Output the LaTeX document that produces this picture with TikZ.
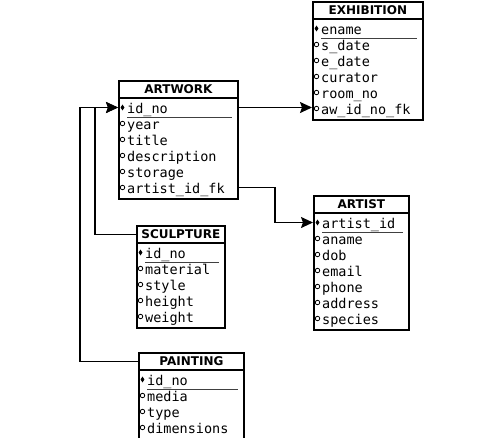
\documentclass[tikz,border=0pt]{standalone}
\usepackage{fontspec}
\setmonofont{DejaVu Sans Mono}
\newfontfamily\headfont{DejaVu Sans}
\usetikzlibrary{arrows.meta,shapes.geometric}

% #1 name, #2 left, #3 top, #4 width, #5 title, #6 key, #7 count, #8 attributes
\newcommand{\entity}[8]{%
  \node[entitybox, minimum width=#4, minimum height={38+16*#7},
        anchor=north west] (#1) at (#2,#3) {};
  \node[heading] (#1-title) at ([yshift=-9.5]#1.north) {#5};
  \draw[rule] ([yshift=-18]#1.north west) -- ([yshift=-18]#1.north east);
  \node[keymark] (#1-km) at ([xshift=4.5,yshift=-27.5]#1.north west) {};
  \node[attr] (#1-key) at ([xshift=9,yshift=-30]#1.north west) {#6};
  \draw[keyline] ([xshift=9,yshift=-37]#1.north west)
    -- ([xshift=-7,yshift=-37]#1.north east);
  \foreach \attrib [count=\k] in {#8} {
    \node[attrmark] (#1-m\k) at ([xshift=4.5,yshift={-27.5-16*\k}]#1.north west) {};
    \node[attr] (#1-a\k) at ([xshift=9,yshift={-30-16*\k}]#1.north west) {\attrib};
  }%
}

\begin{document}
\begin{tikzpicture}[
  x=1pt,
  y=-1pt,
  entitybox/.style={draw, line width=1.8pt, rectangle, inner sep=0pt},
  heading/.style={font=\headfont\bfseries\fontsize{12}{14}\selectfont, inner sep=0pt},
  rule/.style={line width=1.8pt},
  keyline/.style={line width=0.9pt, black!75},
  attr/.style={font=\ttfamily\fontsize{13.5}{16}\selectfont, anchor=west,
               inner sep=0pt, text height=9.5pt, text depth=2.5pt},
  keymark/.style={diamond, fill, inner sep=0pt, minimum width=4pt, minimum height=6pt},
  attrmark/.style={circle, draw, line width=0.8pt, inner sep=0pt, minimum size=4.5pt},
  link/.style={line width=1.6pt, -{Stealth[length=12pt, width=11pt, inset=2pt]}}
]
  \useasboundingbox (0,0) rectangle (500,437);

  % ---- the five tables -------------------------------------------------
  \entity{artwork}{118}{80}{119}{ARTWORK}{id\_no}{5}
    {year, title, description, storage, artist\_id\_fk}
  \entity{exhibition}{312}{1}{110}{EXHIBITION}{ename}{5}
    {s\_date, e\_date, curator, room\_no, aw\_id\_no\_fk}
  \entity{artist}{313}{195}{95}{ARTIST}{artist\_id}{6}
    {aname, dob, email, phone, address, species}
  \entity{sculpture}{136}{225}{88}{SCULPTURE}{id\_no}{4}
    {material, style, height, weight}
  \entity{painting}{138}{352}{105}{PAINTING}{id\_no}{3}
    {media, type, dimensions}

  % ---- the bends of the connectors -------------------------------------
  \coordinate (artist-bend) at (275,0);
  \coordinate (sculpture-bend) at (95,0);
  \coordinate (painting-bend) at (80,0);

  % ---- connectors ------------------------------------------------------
  \draw[link] (artwork-km -| artwork.east) -- (artwork-km -| exhibition.west);
  \draw[link] (artwork-m5 -| artwork.east) -- (artwork-m5 -| artist-bend)
    |- (artist-km -| artist.west);
  \draw[link] (sculpture-title -| sculpture.west) -| (sculpture-bend |- artwork-km)
    -- (artwork-km -| artwork.west);
  \draw[link] (painting-title -| painting.west) -| (painting-bend |- artwork-km)
    -- (artwork-km -| artwork.west);

\end{tikzpicture}
\end{document}
